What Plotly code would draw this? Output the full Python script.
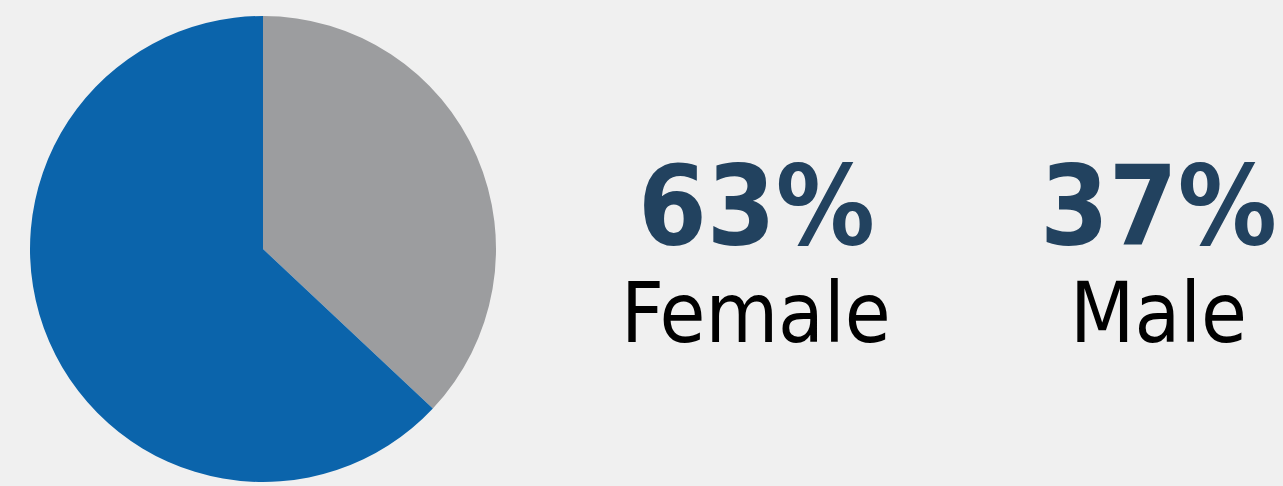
import plotly.graph_objects as go

labels = ["Male", "Female"]
values = [37, 63]
colors = ["#9c9d9f", "#0b64ab"]
pct_text = ["37%", "63%"]

W, H = 1283, 486
fig = go.Figure()
fig.add_trace(go.Pie(
    labels=labels, values=values, sort=False, direction="clockwise", rotation=0,
    marker=dict(colors=colors, line=dict(width=0)),
    textinfo="none", hoverinfo="label+percent", showlegend=False,
    domain=dict(x=[30 / W, 496 / W], y=[1 - 482 / H, 1 - 16 / H]),
))

centers = {"Female": 756, "Male": 1158}
for lab, pct in zip(labels, pct_text):
    cx = centers[lab] / W
    fig.add_annotation(x=cx, y=1 - 206 / H, xref="paper", yref="paper",
                       text=f"<b>{pct}</b>", showarrow=False, xanchor="center", yanchor="middle",
                       font=dict(family="DejaVu Sans Condensed", size=110, color="#22425f"))
    fig.add_annotation(x=cx, y=1 - 313 / H, xref="paper", yref="paper",
                       text=lab, showarrow=False, xanchor="center", yanchor="middle",
                       font=dict(family="DejaVu Sans Condensed, Roboto", size=83, color="#000000"))

fig.update_layout(width=W, height=H, margin=dict(l=0, r=0, t=0, b=0),
                  paper_bgcolor="#f0f0f0", plot_bgcolor="#f0f0f0")
fig.write_html("out.html", config={"displayModeBar": False},
               post_script="document.body.style.margin='0';document.body.style.background='#f0f0f0';")
